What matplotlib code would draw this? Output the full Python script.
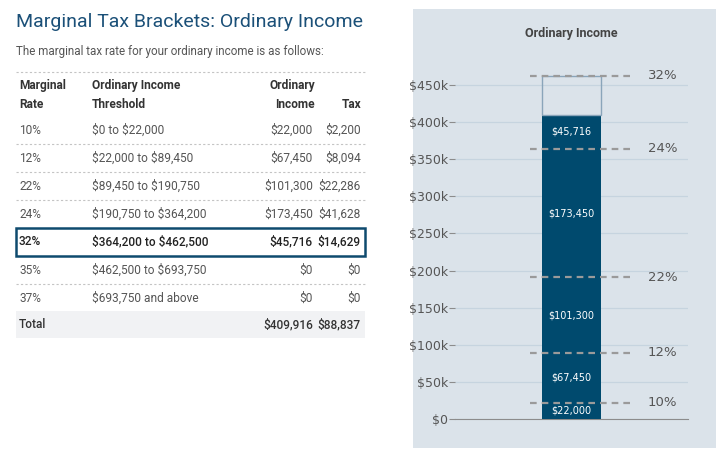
import matplotlib
matplotlib.use("Agg")
import matplotlib.pyplot as plt
import numpy as np
from matplotlib.lines import Line2D
from matplotlib.patches import Rectangle
from matplotlib.ticker import FuncFormatter

plt.rcParams["text.parse_math"] = False

W, H = 727, 453

# table data
rates = ["10%", "12%", "22%", "24%", "32%", "35%", "37%"]
thresholds = ["$0 to $22,000", "$22,000 to $89,450", "$89,450 to $190,750",
              "$190,750 to $364,200", "$364,200 to $462,500",
              "$462,500 to $693,750", "$693,750 and above"]
incomes = [22000, 67450, 101300, 173450, 45716, 0, 0]
taxes = [2200, 8094, 22286, 41628, 14629, 0, 0]
current_row = 4

# chart data (filled brackets only)
bracket_tops = [22000, 89450, 190750, 364200, 462500]
bracket_labels = ["10%", "12%", "22%", "24%", "32%"]

TFONT = "Roboto"
NAVY = "#004a6e"
TITLE_BLUE = "#1b5078"
PANEL = "#dbe3ea"


def fx(x):
    return x / W


def fy(y):
    return 1 - y / H


def money(v):
    return f"${v:,.0f}"


fig = plt.figure(figsize=(W / 100, H / 100), dpi=100)

# ---- left side: title + table ----
fig.text(fx(16), fy(22), "Marginal Tax Brackets: Ordinary Income", family=TFONT,
         fontsize=14, color=TITLE_BLUE, va="center")
fig.text(fx(16), fy(52), "The marginal tax rate for your ordinary income is as follows:",
         family=TFONT, fontsize=8.4, color="#555555", va="center")

def hline(y):
    fig.add_artist(Line2D([fx(16), fx(365)], [fy(y), fy(y)], color="#c4c4c4",
                          lw=0.8, ls=(0, (2, 2))))

hline(72)
hdr = dict(family=TFONT, fontsize=8.6, fontweight="bold", color="#333333", va="center")
fig.text(fx(19), fy(85), "Marginal", **hdr)
fig.text(fx(19), fy(105), "Rate", **hdr)
fig.text(fx(92), fy(85), "Ordinary Income", **hdr)
fig.text(fx(92), fy(105), "Threshold", **hdr)
fig.text(fx(315), fy(85), "Ordinary", ha="right", **hdr)
fig.text(fx(315), fy(105), "Income", ha="right", **hdr)
fig.text(fx(361), fy(105), "Tax", ha="right", **hdr)

row_y0, row_h = 130, 28
for i in range(len(rates)):
    y = row_y0 + i * row_h
    bold = i == current_row
    st = dict(family=TFONT, fontsize=8.6, va="center",
              color="#222222" if bold else "#555555",
              fontweight="medium" if bold else "normal")
    fig.text(fx(19), fy(y), rates[i], **st)
    fig.text(fx(92), fy(y), thresholds[i], **st)
    fig.text(fx(313), fy(y), money(incomes[i]), ha="right", **st)
    fig.text(fx(361), fy(y), money(taxes[i]), ha="right", **st)
    if i < len(rates) - 1 and i not in (current_row - 1, current_row):
        hline(y + 14)

yb = row_y0 + current_row * row_h
fig.add_artist(Rectangle((fx(16), fy(yb + 14)), fx(365) - fx(16), fy(yb - 14) - fy(yb + 14),
                         fill=False, edgecolor="#0f4a6e", lw=1.8))

yt = row_y0 + len(rates) * row_h - 1
fig.add_artist(Rectangle((fx(16), fy(yt + 13)), fx(365) - fx(16), fy(yt - 14) - fy(yt + 13),
                         facecolor="#f1f2f4", edgecolor="none"))
tot = dict(family=TFONT, fontsize=8.6, va="center", color="#333333", fontweight="medium")
fig.text(fx(19), fy(yt), "Total", **tot)
fig.text(fx(313), fy(yt), money(sum(incomes)), ha="right", **tot)
fig.text(fx(361), fy(yt), money(sum(taxes)), ha="right", **tot)

# ---- right side: stacked bar ----
fig.add_artist(Rectangle((fx(413), fy(448)), fx(716) - fx(413), fy(9) - fy(448),
                         facecolor=PANEL, edgecolor="none", zorder=0))
fig.text(fx(571), fy(34), "Ordinary Income", family=TFONT, fontsize=9,
         fontweight="bold", color="#444444", ha="center", va="center")

ylim_top = 470000
ax_top_px = 419 - ylim_top / 1000 * (334 / 450)
ax = fig.add_axes([fx(455), fy(419), fx(688) - fx(455), fy(ax_top_px) - fy(419)])
ax.patch.set_alpha(0)
ax.set_xlim(-1, 1)
ax.set_ylim(0, ylim_top)

segments = incomes[:current_row + 1]
bottoms = np.concatenate([[0], np.cumsum(segments)[:-1]])
ax.bar(0, segments, bottom=bottoms, width=0.506, color=NAVY, zorder=3)
total = sum(incomes)
ax.bar(0, bracket_tops[-1] - total, bottom=total, width=0.506, fill=False,
       edgecolor="#8aa5ba", lw=1, zorder=3)
for b, s in zip(bottoms, segments):
    ax.text(0, b + s / 2, money(s), ha="center", va="center", color="white",
            fontsize=7, zorder=4)

for top, lab in zip(bracket_tops, bracket_labels):
    ax.plot([-0.356, 0.502], [top, top], color="#9a9a9a", lw=1.6,
            ls=(0, (3.0, 2.25)), zorder=5, clip_on=False)
    ax.text(0.657, top, lab, ha="left", va="center", color="#555555", fontsize=9.5)

ax.set_yticks(np.arange(0, 450001, 50000))
ax.yaxis.set_major_formatter(FuncFormatter(lambda v, p: "$0" if v == 0 else f"${v/1000:.0f}k"))
ax.grid(axis="y", color="#c6d4df", lw=0.9, zorder=1)
ax.set_xticks([])
for s in ["top", "right", "left"]:
    ax.spines[s].set_visible(False)
ax.spines["bottom"].set_color("#8c8c8c")
ax.tick_params(axis="y", length=4, color="#8c8c8c", labelcolor="#555555",
               labelsize=9, pad=1)

fig.savefig("out.png", dpi=100)
